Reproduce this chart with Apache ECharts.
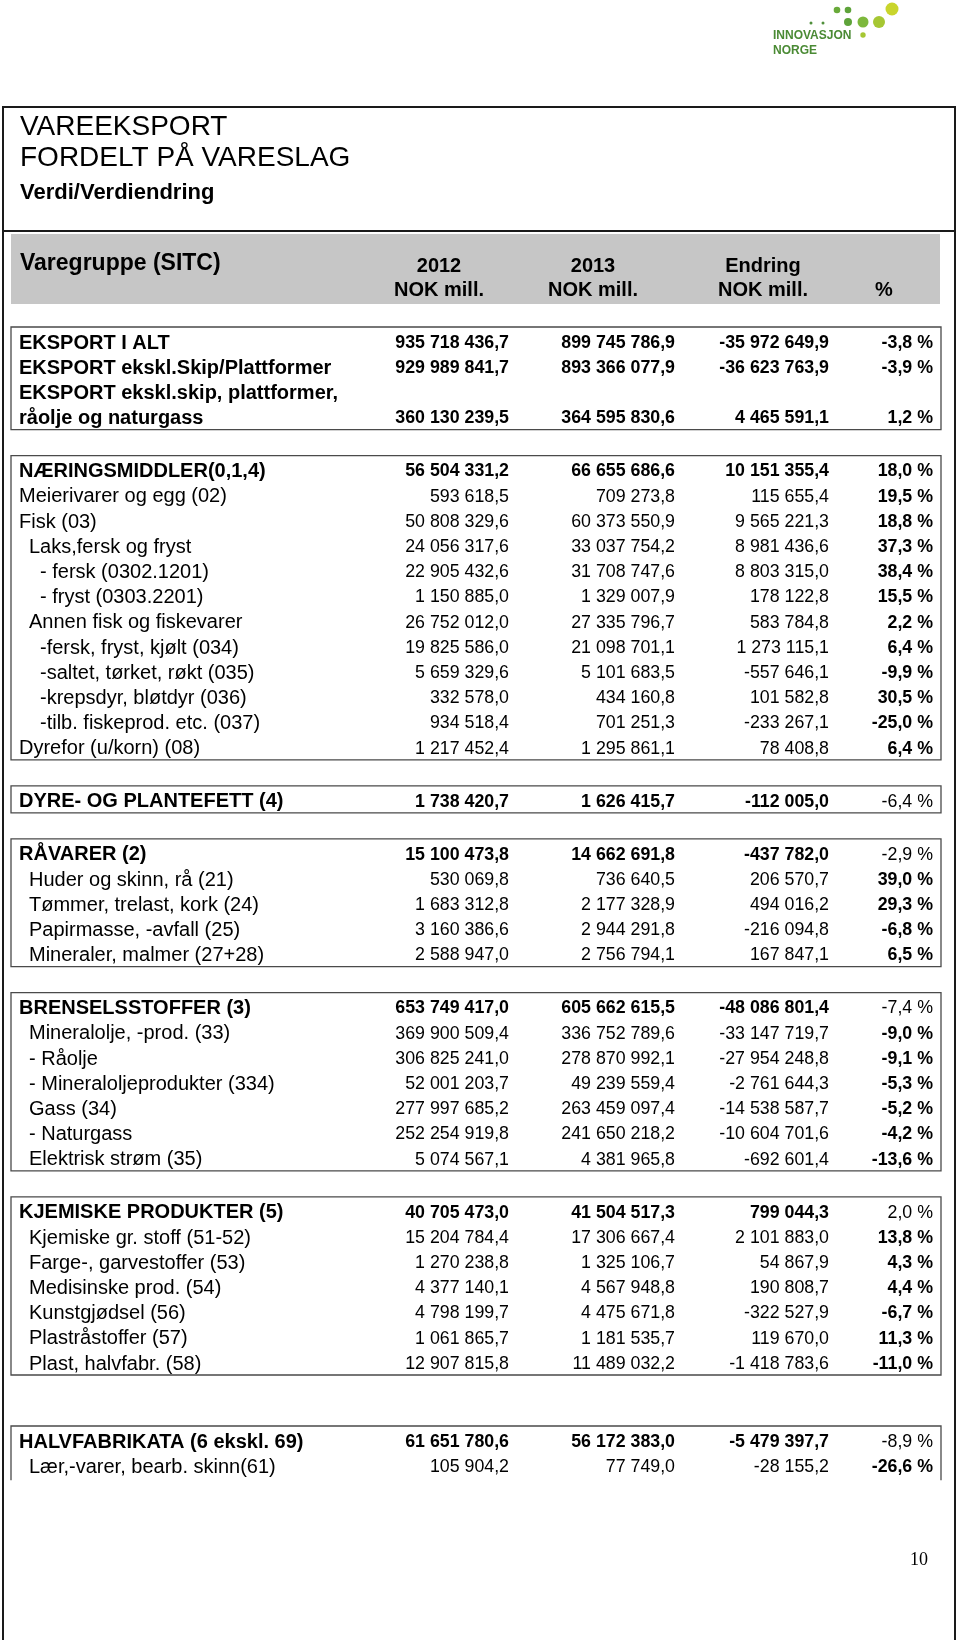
<!DOCTYPE html>
<html>
<head>
<meta charset="utf-8">
<title>Vareeksport fordelt på vareslag</title>
<script src="https://cdn.jsdelivr.net/npm/echarts@6/dist/echarts.min.js"></script>
<style>
  html, body { margin: 0; padding: 0; background: #fff; }
  #chart { width: 960px; height: 1640px; }
</style>
</head>
<body>
<div id="chart"></div>
<script>
// table rows, top to bottom
const rowNames = [
  'EKSPORT I ALT', 'EKSPORT ekskl.Skip/Plattformer', 'EKSPORT ekskl.skip, plattformer,', 'råolje og naturgass',
  'NÆRINGSMIDDLER(0,1,4)', 'Meierivarer og egg (02)', 'Fisk (03)', 'Laks,fersk og fryst',
  '- fersk (0302.1201)', '- fryst (0303.2201)', 'Annen fisk og fiskevarer', '-fersk, fryst, kjølt (034)',
  '-saltet, tørket, røkt (035)', '-krepsdyr, bløtdyr (036)', '-tilb. fiskeprod. etc. (037)', 'Dyrefor (u/korn) (08)',
  'DYRE- OG PLANTEFETT (4)',
  'RÅVARER (2)', 'Huder og skinn, rå (21)', 'Tømmer, trelast, kork (24)', 'Papirmasse, -avfall (25)', 'Mineraler, malmer (27+28)',
  'BRENSELSSTOFFER (3)', 'Mineralolje, -prod. (33)', '- Råolje', '- Mineraloljeprodukter (334)', 'Gass (34)', '- Naturgass', 'Elektrisk strøm (35)',
  'KJEMISKE PRODUKTER (5)', 'Kjemiske gr. stoff (51-52)', 'Farge-, garvestoffer (53)', 'Medisinske prod. (54)',
  'Kunstgjødsel (56)', 'Plastråstoffer (57)', 'Plast, halvfabr. (58)',
  'HALVFABRIKATA (6 ekskl. 69)', 'Lær,-varer, bearb. skinn(61)'
];
const val2012 = [
  935718436.7, 929989841.7, null, 360130239.5,
  56504331.2, 593618.5, 50808329.6, 24056317.6, 22905432.6, 1150885.0, 26752012.0, 19825586.0,
  5659329.6, 332578.0, 934518.4, 1217452.4,
  1738420.7,
  15100473.8, 530069.8, 1683312.8, 3160386.6, 2588947.0,
  653749417.0, 369900509.4, 306825241.0, 52001203.7, 277997685.2, 252254919.8, 5074567.1,
  40705473.0, 15204784.4, 1270238.8, 4377140.1, 4798199.7, 1061865.7, 12907815.8,
  61651780.6, 105904.2
];
const val2013 = [
  899745786.9, 893366077.9, null, 364595830.6,
  66655686.6, 709273.8, 60373550.9, 33037754.2, 31708747.6, 1329007.9, 27335796.7, 21098701.1,
  5101683.5, 434160.8, 701251.3, 1295861.1,
  1626415.7,
  14662691.8, 736640.5, 2177328.9, 2944291.8, 2756794.1,
  605662615.5, 336752789.6, 278870992.1, 49239559.4, 263459097.4, 241650218.2, 4381965.8,
  41504517.3, 17306667.4, 1325106.7, 4567948.8, 4475671.8, 1181535.7, 11489032.2,
  56172383.0, 77749.0
];
const changeNok = [
  -35972649.9, -36623763.9, null, 4465591.1,
  10151355.4, 115655.4, 9565221.3, 8981436.6, 8803315.0, 178122.8, 583784.8, 1273115.1,
  -557646.1, 101582.8, -233267.1, 78408.8,
  -112005.0,
  -437782.0, 206570.7, 494016.2, -216094.8, 167847.1,
  -48086801.4, -33147719.7, -27954248.8, -2761644.3, -14538587.7, -10604701.6, -692601.4,
  799044.3, 2101883.0, 54867.9, 190808.7, -322527.9, 119670.0, -1418783.6,
  -5479397.7, -28155.2
];
const changePct = [
  -3.8, -3.9, null, 1.2,
  18.0, 19.5, 18.8, 37.3, 38.4, 15.5, 2.2, 6.4, -9.9, 30.5, -25.0, 6.4,
  -6.4,
  -2.9, 39.0, 29.3, -6.8, 6.5,
  -7.4, -9.0, -9.1, -5.3, -5.2, -4.2, -13.6,
  2.0, 13.8, 4.3, 4.4, -6.7, 11.3, -11.0,
  -8.9, -26.6
];
// rows per framed block
const blockSizes = [4, 12, 1, 5, 7, 7, 2];
const colHeadTop = ['2012', '2013', 'Endring', ''];
const colHeadBottom = ['NOK mill.', 'NOK mill.', 'NOK mill.', '%'];

// indent level of each row label (styling only)
const rowLevel = [
  0, 0, 0, 0,
  0, 0, 0, 1, 2, 2, 1, 2, 2, 2, 2, 0,
  0,
  0, 1, 1, 1, 1,
  0, 1, 1, 1, 1, 1, 1,
  0, 1, 1, 1, 1, 1, 1,
  0, 1
];

const FONT = '"Liberation Sans", Arial, Helvetica, sans-serif';
const PITCH = 25.2;
const LABEL_X = [19, 29, 40];
const COL_RIGHT = [509, 675, 829, 933];
const HEAD_CENTER = [439, 593, 763, 884];
const BOX_LEFT = 11, BOX_RIGHT = 941;
const NUM_SIZE = 17.8;

function fmt(v) {
  const s = Math.abs(v).toFixed(1).split('.');
  return (v < 0 ? '-' : '') + s[0].replace(/\B(?=(\d{3})+(?!\d))/g, ' ') + ',' + s[1];
}

function txt(text, x, y, size, weight, align, family) {
  return {
    type: 'text',
    style: {
      text: text, x: x, y: y,
      font: (weight || 'normal') + ' ' + size + 'px ' + (family || FONT),
      fill: '#000',
      align: align || 'left', textAlign: align || 'left',
      verticalAlign: 'middle', textVerticalAlign: 'middle'
    }
  };
}

const chart = echarts.init(document.getElementById('chart'), null, { width: 960, height: 1640 });

const grids = [], xAxes = [], yAxes = [], series = [];
const frames = [];
let boxTop = 327;
let start = 0;
blockSizes.forEach(function (n, b) {
  const last = b === blockSizes.length - 1;
  if (last) boxTop += 25;   // extra space before the last block
  const height = 16 + (n - 1) * PITCH + 11;
  grids.push({
    left: BOX_LEFT, top: boxTop, width: BOX_RIGHT - BOX_LEFT, height: height,
    show: !last, borderColor: '#4a4a4a', borderWidth: 1.3, backgroundColor: 'transparent'
  });
  if (last) {
    // the page cuts this block off: sides and top only
    frames.push({
      type: 'polyline', silent: true,
      shape: { points: [[BOX_LEFT, boxTop + height + 2], [BOX_LEFT, boxTop], [BOX_RIGHT, boxTop], [BOX_RIGHT, boxTop + height + 2]] },
      style: { stroke: '#4a4a4a', lineWidth: 1.3, fill: null }
    });
  }
  xAxes.push({ gridIndex: b, type: 'value', min: BOX_LEFT, max: BOX_RIGHT, show: false });
  yAxes.push({ gridIndex: b, type: 'value', inverse: true, min: -16 / PITCH, max: n - 1 + 11 / PITCH, show: false });

  const data = [];
  for (let r = 0; r < n; r++) data.push([r, start + r]);
  const blockStart = start;
  series.push({
    type: 'custom',
    xAxisIndex: b, yAxisIndex: b,
    silent: true,
    clip: false,
    data: data,
    renderItem: function (params, api) {
      const r = api.value(0), i = api.value(1);
      const first = i === blockStart;
      const bold = first || b === 0;
      const pt = api.coord([LABEL_X[rowLevel[i]], r]);
      const children = [txt(rowNames[i], pt[0], pt[1], 20, bold ? 'bold' : 'normal', 'left')];
      if (val2012[i] != null) {
        const cols = [fmt(val2012[i]), fmt(val2013[i]), fmt(changeNok[i])];
        cols.forEach(function (s, c) {
          const p = api.coord([COL_RIGHT[c], r]);
          children.push(txt(s, p[0], p[1], NUM_SIZE, bold ? 'bold' : 'normal', 'right'));
        });
        const pp = api.coord([COL_RIGHT[3], r]);
        const pctWeight = (first && b >= 2) ? 'normal' : 'bold';
        children.push(txt(fmt(changePct[i]) + ' %', pp[0], pp[1], NUM_SIZE, pctWeight, 'right'));
      }
      return { type: 'group', children: children };
    }
  });
  boxTop += height + 26;
  start += n;
});

const graphics = [
  // outer page frame, open at the bottom
  { type: 'polyline', silent: true,
    shape: { points: [[3, 1640], [3, 107], [955, 107], [955, 1640]] },
    style: { stroke: '#1a1a1a', lineWidth: 2, fill: null } },
  { type: 'line', silent: true, shape: { x1: 3, y1: 231, x2: 955, y2: 231 },
    style: { stroke: '#1a1a1a', lineWidth: 2 } },
  // grey header band
  { type: 'rect', silent: true, shape: { x: 11, y: 234, width: 929, height: 70 },
    style: { fill: '#c6c6c6' } },
  txt('VAREEKSPORT', 20, 127, 28, 'normal', 'left'),
  txt('FORDELT PÅ VARESLAG', 20, 158, 28, 'normal', 'left'),
  txt('Verdi/Verdiendring', 20, 193, 22, 'bold', 'left'),
  txt('Varegruppe (SITC)', 20, 264, 23, 'bold', 'left'),
  txt('10', 919, 1560, 18, 'normal', 'center', '"Liberation Serif", "Times New Roman", serif')
];
colHeadTop.forEach(function (s, c) {
  if (s) graphics.push(txt(s, HEAD_CENTER[c], 266, 20, 'bold', 'center'));
});
colHeadBottom.forEach(function (s, c) {
  graphics.push(txt(s, HEAD_CENTER[c], 290, 20, 'bold', 'center'));
});

// Innovasjon Norge logo
const dots = [
  [892, 9, 6.5, '#c9d52c'], [879, 22, 6, '#a6c733'], [863, 22, 5.5, '#7db83c'],
  [848, 22, 4, '#5ea33a'], [848, 10, 3.3, '#5ea33a'], [837, 10, 3.3, '#69aa3a'],
  [823, 23, 1.5, '#4f8f3a'], [811, 23, 1.5, '#4f8f3a'], [863, 35, 2.7, '#a6c733']
];
dots.forEach(function (d) {
  graphics.push({ type: 'circle', silent: true, shape: { cx: d[0], cy: d[1], r: d[2] }, style: { fill: d[3] } });
});
[['INNOVASJON', 36], ['NORGE', 51]].forEach(function (t) {
  const el = txt(t[0], 773, t[1], 12, 'bold', 'left');
  el.style.fill = '#4a8a34';
  graphics.push(el);
});
frames.forEach(function (f) { graphics.push(f); });

chart.setOption({
  animation: false,
  backgroundColor: '#fff',
  grid: grids,
  xAxis: xAxes,
  yAxis: yAxes,
  graphic: { elements: graphics },
  series: series
});
</script>
</body>
</html>
